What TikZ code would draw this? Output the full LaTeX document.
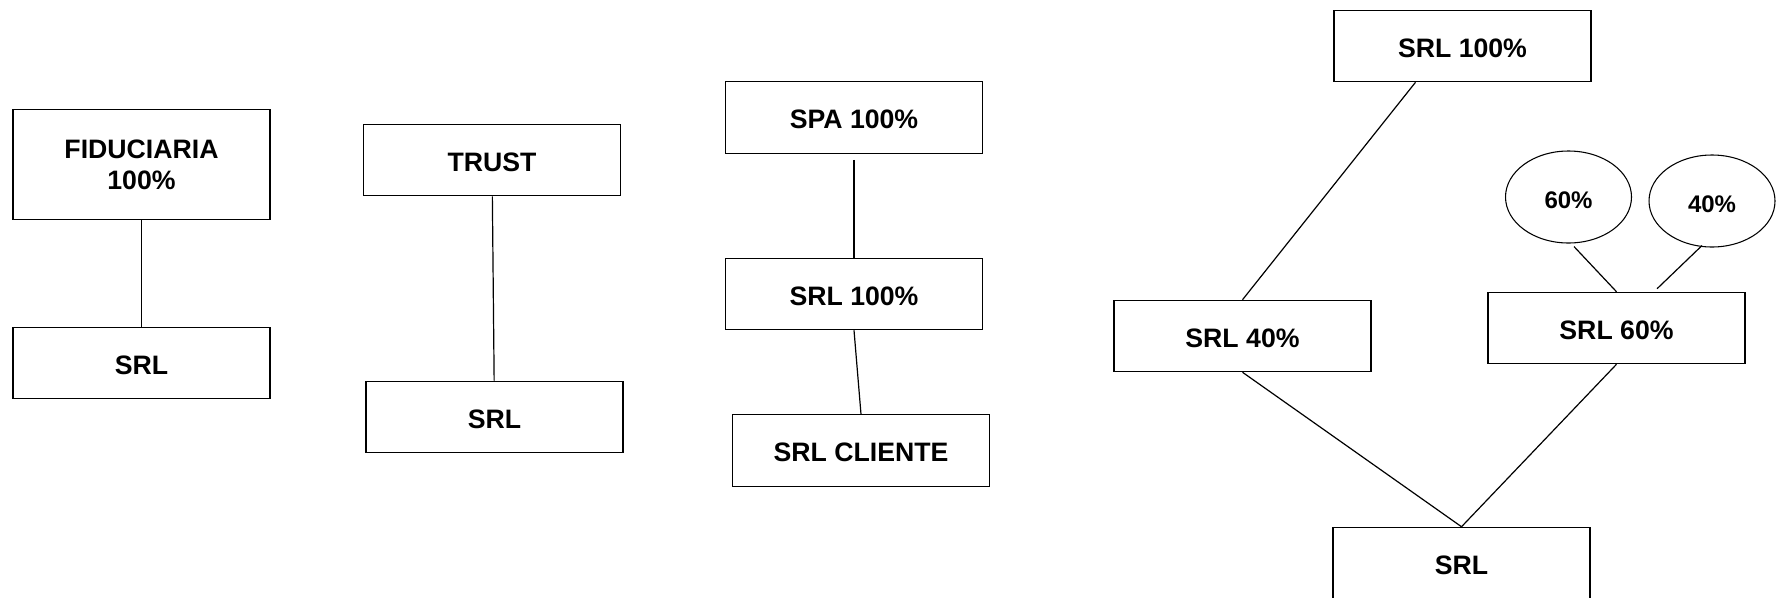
\documentclass[tikz,border=0pt]{standalone}
\usepackage{fontspec}
\setmainfont{Liberation Sans}
\usepackage{tikz}
\usetikzlibrary{shapes.geometric,positioning}

\begin{document}
\begin{tikzpicture}[x=0.75pt,y=-0.75pt,
  box/.style={rectangle,draw,line width=0.9pt,minimum width=192.75pt,minimum height=53.5pt,inner sep=0pt,align=center,font=\fontsize{20}{23.5}\selectfont\bfseries},
  company/.style={box,text height=17pt,text depth=0pt},
  quota/.style={ellipse,draw,line width=0.8pt,minimum width=94.5pt,minimum height=69pt,inner sep=0pt,text height=17pt,text depth=0pt,font=\fontsize{18}{21}\selectfont\bfseries},
  edge/.style={line width=0.9pt}]
\useasboundingbox (0,0) rectangle (1777,597);

\node(fid)[box,minimum height=83pt] at (141.5,164.5) {FIDUCIARIA\\100\%};
\node(srla)[company] at (141.5,363) {SRL};

\node(trust)[company] at (492,160) {TRUST};
\node(srlb)[company] at (494.5,417) {SRL};

\node(spa)[company] at (854,117.5) {SPA 100\%};
\node(srlc)[company] at (854,294) {SRL 100\%};
\node(cliente)[company] at (861,450.5) {SRL CLIENTE};

\node(top)[company] at (1462.5,46) {SRL 100\%};
\node(srl40)[company] at (1242.5,336) {SRL 40\%};
\node(srl60)[company] at (1616.5,328) {SRL 60\%};
\node(base)[company] at (1461.5,563) {SRL};
\node(q60)[quota] at (1568.5,197) {60\%};
\node(q40)[quota] at (1712,201) {40\%};

\draw [edge] (fid) to (srla);
\draw [edge] (trust) to (srlb);
\draw [edge] ([yshift=-4.5pt]spa.south) to (srlc);
\draw [edge] (srlc.south) to (cliente.north);
\draw [edge] ([xshift=-35.25pt]top.south) to (srl40.north);
\draw [edge] (srl40.south) to (base.north);
\draw [edge] (srl60.south) to (base.north);
\draw [edge] ([xshift=4.1pt,yshift=-2.25pt]q60.south) to (srl60.north);
\draw [edge] ([xshift=-7.5pt,yshift=1.5pt]q40.south) to ([xshift=30.4pt,yshift=2.25pt]srl60.north);
\end{tikzpicture}
\end{document}
